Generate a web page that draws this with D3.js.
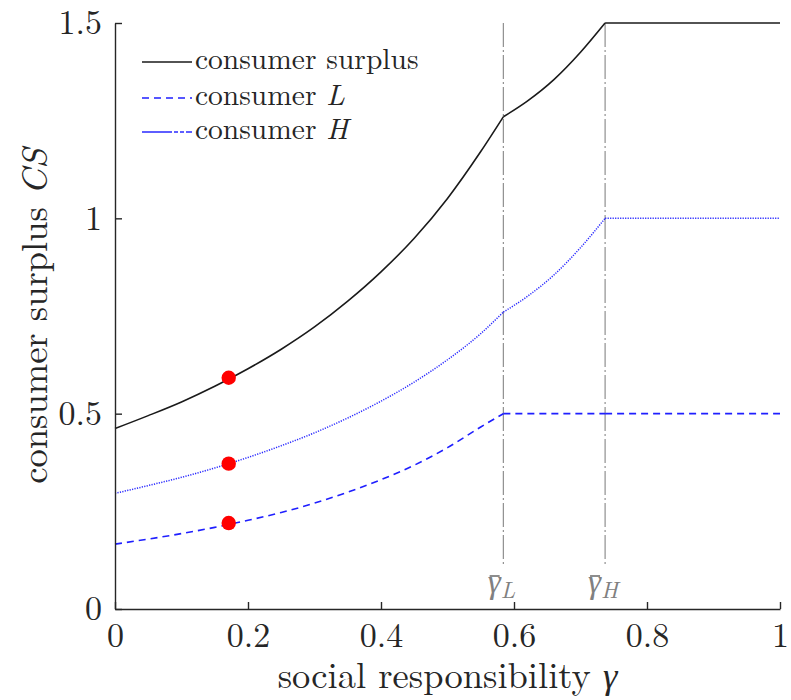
<!DOCTYPE html>
<html>
<head>
<meta charset="utf-8">
<script src="https://cdn.jsdelivr.net/npm/d3@7"></script>
<style>
  html, body { margin: 0; padding: 0; background: #fff; }
  svg { display: block; }
</style>
</head>
<body>
<script>
// Consumer surplus as a function of social responsibility γ
const gammaGrid = [0, 0.05, 0.1, 0.15, 0.2, 0.25, 0.3, 0.35, 0.4, 0.45, 0.5, 0.55, 0.584, 0.62, 0.66, 0.70, 0.737, 1.0];
const csTotal   = [0.462, 0.495, 0.530, 0.570, 0.615, 0.665, 0.722, 0.788, 0.863, 0.949, 1.051, 1.171, 1.260, 1.300, 1.355, 1.425, 1.5, 1.5];
const csL       = [0.166, 0.179, 0.193, 0.209, 0.227, 0.247, 0.271, 0.299, 0.331, 0.368, 0.413, 0.466, 0.5, 0.5, 0.5, 0.5, 0.5, 0.5];
const csH       = [0.296, 0.316, 0.337, 0.361, 0.388, 0.418, 0.451, 0.489, 0.532, 0.581, 0.638, 0.705, 0.760, 0.800, 0.855, 0.925, 1.0, 1.0];

// thresholds γ̄_L and γ̄_H
const thresholdNames = ["L", "H"];
const thresholdGamma = [0.584, 0.737];

// highlighted operating point
const markerGamma = 0.171;
const markerValues = [0.592, 0.220, 0.372];

const xTicks = [0, 0.2, 0.4, 0.6, 0.8, 1];
const xTickLabels = ["0", "0.2", "0.4", "0.6", "0.8", "1"];
const yTicks = [0, 0.5, 1, 1.5];
const yTickLabels = ["0", "0.5", "1", "1.5"];

const seriesNames = ["consumer surplus", "consumer ", "consumer "];
const seriesItalic = ["", "L", "H"];

const W = 791, H = 700;
const FONT = "Latin Modern Roman";
const svg = d3.select("body").append("svg").attr("width", W).attr("height", H);

const x = d3.scaleLinear().domain([0, 1]).range([115, 780]);
const y = d3.scaleLinear().domain([0, 1.5]).range([609, 23]);

const axisColor = "#262626";

// vertical threshold guides
const guideColor = "#8f8f8f";
thresholdGamma.forEach(g => {
  svg.append("line")
    .attr("x1", x(g)).attr("x2", x(g))
    .attr("y1", y(1.5)).attr("y2", 567)
    .attr("stroke", guideColor).attr("stroke-width", 1.2)
    .attr("stroke-dasharray", "24,3,2,3");
});

// threshold labels γ̄_L, γ̄_H
thresholdGamma.forEach((g, i) => {
  const t = svg.append("text")
    .attr("x", x(g) - 2).attr("y", 593)
    .attr("text-anchor", "middle")
    .attr("font-family", FONT)
    .attr("font-size", 33)
    .attr("fill", "#808080");
  t.append("tspan").attr("font-style", "italic").text("γ");
  t.append("tspan").attr("font-style", "italic").attr("font-size", 23)
    .attr("dy", 5).text(thresholdNames[i]);
  const node = t.node();
  const s = node.getStartPositionOfChar(0);
  const e = node.getEndPositionOfChar(0);
  svg.append("line")
    .attr("x1", s.x + 2).attr("x2", e.x - 1)
    .attr("y1", 576).attr("y2", 576)
    .attr("stroke", "#808080").attr("stroke-width", 1.8);
});

// split a series at the threshold kinks so each piece is smooth on its own
function pieces(values) {
  const pts = gammaGrid.map((g, i) => [g, values[i]]);
  const cuts = [0, ...thresholdGamma.map(t => gammaGrid.indexOf(t)), gammaGrid.length - 1];
  const out = [];
  for (let k = 0; k < cuts.length - 1; k++) out.push(pts.slice(cuts[k], cuts[k + 1] + 1));
  return out;
}

const line = d3.line().x(d => x(d[0])).y(d => y(d[1])).curve(d3.curveMonotoneX);

const styles = [
  { color: "#1a1a1a", width: 1.6, dash: null },
  { color: "#1f1fff", width: 1.6, dash: "7,5" },
  { color: "#2a2aff", width: 1.5, dash: "1.2,1.3" }
];
const seriesValues = [csTotal, csL, csH];

seriesValues.forEach((vals, si) => {
  pieces(vals).forEach(p => {
    svg.append("path")
      .attr("d", line(p))
      .attr("fill", "none")
      .attr("stroke", styles[si].color)
      .attr("stroke-width", styles[si].width)
      .attr("stroke-dasharray", styles[si].dash);
  });
});

// highlighted points
svg.selectAll("circle.marker")
  .data(markerValues)
  .enter().append("circle")
  .attr("class", "marker")
  .attr("cx", x(markerGamma))
  .attr("cy", d => y(d))
  .attr("r", 7.2)
  .attr("fill", "#ff0000");

// axes
const xAxis = d3.axisBottom(x).tickValues(xTicks).tickFormat((d, i) => xTickLabels[i])
  .tickSizeInner(-7).tickSizeOuter(0).tickPadding(14);
const yAxis = d3.axisLeft(y).tickValues(yTicks).tickFormat((d, i) => yTickLabels[i])
  .tickSizeInner(-7).tickSizeOuter(0).tickPadding(13);

const gx = svg.append("g").attr("transform", `translate(0,${y(0)})`).call(xAxis);
const gy = svg.append("g").attr("transform", `translate(${x(0)},0)`).call(yAxis);
[gx, gy].forEach(g => {
  g.attr("font-family", FONT).attr("font-size", 34);
  g.select(".domain").attr("stroke", axisColor).attr("stroke-width", 1.4);
  g.selectAll(".tick line").attr("stroke", axisColor).attr("stroke-width", 1.4);
  g.selectAll(".tick text").attr("fill", axisColor);
});

// axis titles
const xl = svg.append("text")
  .attr("x", (x(0) + x(1)) / 2).attr("y", 688)
  .attr("text-anchor", "middle")
  .attr("font-family", FONT)
  .attr("font-size", 36.5)
  .attr("fill", axisColor);
xl.append("tspan").text("social responsibility ");
xl.append("tspan").attr("font-style", "italic").text("γ");

const yl = svg.append("text")
  .attr("transform", `translate(47,${(y(0) + y(1.5)) / 2}) rotate(-90)`)
  .attr("text-anchor", "middle")
  .attr("font-family", FONT)
  .attr("font-size", 36.5)
  .attr("fill", axisColor);
yl.append("tspan").text("consumer surplus ");
yl.append("tspan").attr("font-style", "italic").text("CS");

// legend
const legendY = [62, 98, 132];
const legendDash = [null, "7,5", "30,2,4,2,4,2"];
seriesNames.forEach((name, i) => {
  svg.append("line")
    .attr("x1", 142).attr("x2", 192)
    .attr("y1", legendY[i]).attr("y2", legendY[i])
    .attr("stroke", styles[i].color)
    .attr("stroke-width", 1.6)
    .attr("stroke-dasharray", legendDash[i]);
  const t = svg.append("text")
    .attr("x", 195).attr("y", legendY[i] + 7)
    .attr("font-family", FONT)
    .attr("font-size", 29.5)
    .attr("fill", axisColor);
  t.append("tspan").text(name);
  if (seriesItalic[i]) t.append("tspan").attr("font-style", "italic").text(seriesItalic[i]);
});
</script>
</body>
</html>
